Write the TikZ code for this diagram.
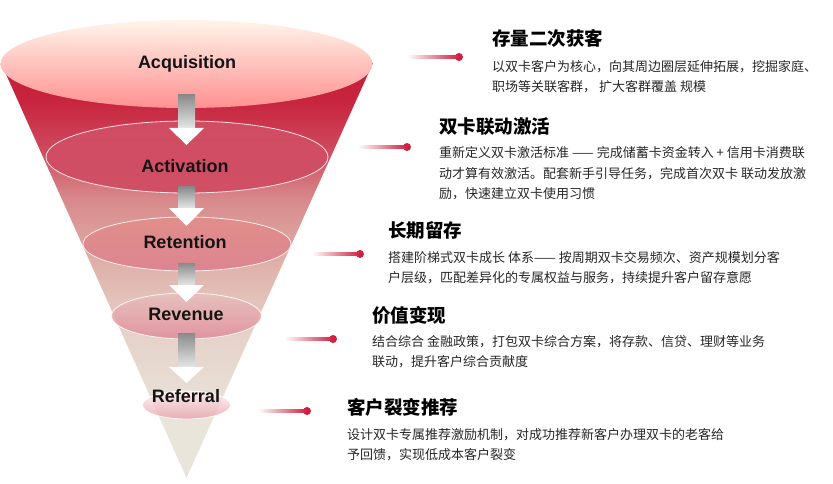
\documentclass[tikz,border=0pt]{standalone}
\usepackage{fontspec}
\setmainfont{Liberation Sans}
\newfontfamily\cjk{Noto Sans CJK SC}
\usetikzlibrary{positioning}

\definecolor{funneltop}{HTML}{C41E3A}
\definecolor{funnelmid}{HTML}{DDA7A2}
\definecolor{funnelbot}{HTML}{E9E5DB}
\definecolor{linkred}{HTML}{D11F3F}
\definecolor{arrowgray}{HTML}{8A8A8A}

% red at the rim, fading to beige at the tip (path box = 25bp..75bp)
\pgfdeclareverticalshading{conefade}{100bp}{%
  color(0bp)=(funnelbot); color(32bp)=(funnelbot);
  color(43bp)=(rgb,255:red,229;green,208;blue,200);
  color(51bp)=(rgb,255:red,223;green,176;blue,168);
  color(58.5bp)=(rgb,255:red,216;green,138;blue,140);
  color(64.5bp)=(rgb,255:red,207;green,74;blue,94);
  color(70.5bp)=(rgb,255:red,200;green,36;blue,62);
  color(75bp)=(funneltop); color(100bp)=(funneltop)}

\begin{document}
\begin{tikzpicture}[
  x=1pt,y=-1pt,
  stage/.style={font=\fontsize{18}{18}\selectfont\bfseries,text=black!92,anchor=base,inner sep=0pt},
  headline/.style={font=\cjk\fontsize{18.5}{20}\selectfont\bfseries,anchor=base west,inner sep=0pt},
  % anchor sits on the baseline of the last line
  bodytext/.style={font=\cjk\fontsize{13}{20}\selectfont,text=black!85,anchor=base west,align=left,inner sep=0pt},
  dot/.style={circle,fill=linkred,inner sep=0pt,minimum size=8pt},
  rim/.style={draw=white,line width=0.8pt,draw opacity=0.85}
]
\useasboundingbox (0,0) rectangle (833,484);

% funnel body
\shade[shading=conefade] (1,63) -- (373,63) -- (186.5,478) -- cycle;

% stage rims
\shade[top color=white!92!orange,middle color=white!88!red,bottom color=red!35!pink!85]
  (186.5,64) ellipse (186 and 44);
\shade[rim,top color=funneltop!78!white,middle color=funneltop!62!white,bottom color=funneltop!80!white,fill opacity=0.9]
  (187,157) ellipse (141 and 36);
\shade[rim,top color=funnelmid!85!red,middle color=funnelmid!90!red,bottom color=funneltop!58!white,fill opacity=0.85]
  (187,244) ellipse (104 and 27);
\shade[rim,top color=funnelmid!70!white,middle color=funnelmid!85!orange,bottom color=funneltop!52!white,fill opacity=0.85]
  (186.5,316) ellipse (75 and 23);
\shade[rim,top color=white!80!pink,bottom color=funneltop!42!white,fill opacity=0.8]
  (186.5,405) ellipse (44 and 14);

% arrows between stages: shaft top / shaft end / tip
\foreach \ya/\yb/\yc in {95/128/145, 187/208/226, 263/285/302, 333/367/383}{
  \shade[top color=arrowgray,bottom color=white!90!black] (178,\ya) rectangle (195,\yb);
  \fill[white] (169,\yb) -- (204,\yb) -- (186.5,\yc) -- cycle;
}

% stage labels
\node[stage] (acq) at (187,69)  {Acquisition};
\node[stage] (act) at (185,172) {Activation};
\node[stage] (ret) at (185,248) {Retention};
\node[stage] (rev) at (186,320) {Revenue};
\node[stage] (ref) at (186,402) {Referral};

% connectors with dots
\foreach \xa/\xb/\y [count=\i] in {407/459/57, 358/407/147, 312/360/254, 285/333/339, 258/307/411}{
  \coordinate (src\i) at (\xa,\y);
  \node[dot] (dot\i) at (\xb,\y) {};
  \shade[left color=white,right color=linkred] ([yshift=1.1pt]src\i) rectangle ([yshift=-1.1pt]dot\i.center);
}

% descriptions
\node[headline] (t1) at (492,46)  {存量二次获客};
\node[bodytext] (b1) at (492,92)  {以双卡客户为核心，向其周边圈层延伸拓展，挖掘家庭、\\职场等关联客群， 扩大客群覆盖 规模};

\node[headline] (t2) at (439,134) {双卡联动激活};
\node[bodytext] (b2) at (439,198) {重新定义双卡激活标准 —— 完成储蓄卡资金转入 + 信用卡消费联\\动才算有效激活。配套新手引导任务，完成首次双卡 联动发放激\\励，快速建立双卡使用习惯};

\node[headline] (t3) at (388,237) {长期留存};
\node[bodytext] (b3) at (388,282) {搭建阶梯式双卡成长 体系—— 按周期双卡交易频次、资产规模划分客\\户层级，匹配差异化的专属权益与服务，持续提升客户留存意愿};

\node[headline] (t4) at (372,322) {价值变现};
\node[bodytext] (b4) at (372,366) {结合综合 金融政策，打包双卡综合方案，将存款、信贷、理财等业务\\联动，提升客户综合贡献度};

\node[headline] (t5) at (347,414) {客户裂变推荐};
\node[bodytext] (b5) at (347,459) {设计双卡专属推荐激励机制，对成功推荐新客户办理双卡的老客给\\予回馈，实现低成本客户裂变};
\end{tikzpicture}
\end{document}
